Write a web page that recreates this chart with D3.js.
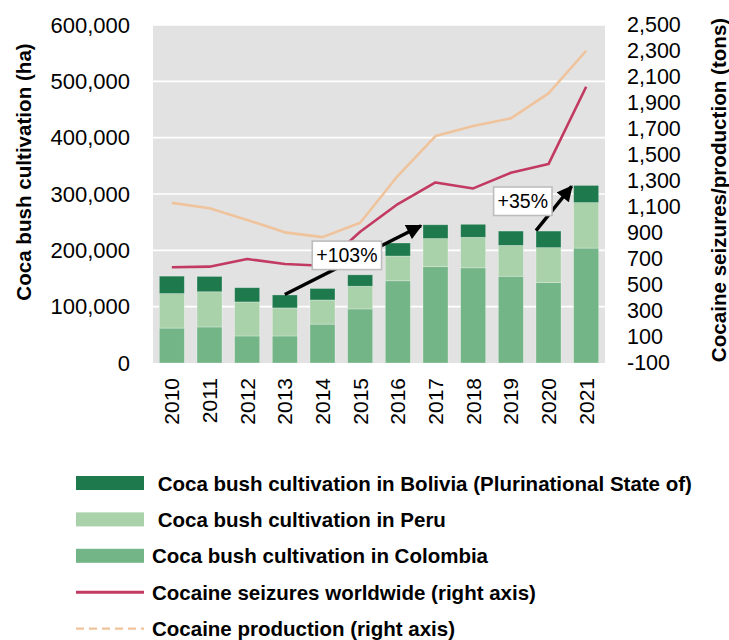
<!DOCTYPE html>
<html>
<head>
<meta charset="utf-8">
<script src="https://cdn.jsdelivr.net/npm/d3@7"></script>
<style>
  html, body { margin: 0; padding: 0; background: #ffffff; }
  svg { display: block; font-family: "Liberation Sans", Arial, sans-serif; }
</style>
</head>
<body>
<svg id="chart" width="729" height="640"></svg>
<script>
// Years on the category axis
const years = ["2010", "2011", "2012", "2013", "2014", "2015", "2016", "2017", "2018", "2019", "2020", "2021"];

// Coca bush cultivation (ha), stacked bottom to top
const colombia = [62000, 64000, 48000, 48000, 69000, 96000, 146000, 171000, 169000, 154000, 143000, 204000];
const peru     = [61200, 62500, 60400, 49800, 42900, 40300, 43900, 49900, 54100, 54700, 61800, 80700];
const bolivia  = [31000, 27200, 25300, 23000, 20400, 20200, 23100, 24500, 23100, 25500, 29400, 30500];

// Cocaine seizures and production (tons), right axis
const seizures   = [636, 641, 700, 661, 648, 910, 1123, 1289, 1243, 1363, 1430, 2025];
const production = [1132, 1090, 1000, 905, 868, 979, 1340, 1646, 1723, 1782, 1974, 2302];

// Tick values
const leftTicks  = [0, 100000, 200000, 300000, 400000, 500000, 600000];
const rightTicks = [-100, 100, 300, 500, 700, 900, 1100, 1300, 1500, 1700, 1900, 2100, 2300, 2500];

// Growth annotations between years
const annotFrom   = ["2013", "2020"];
const annotTo     = ["2017", "2021"];
const annotLabels = ["+103%", "+35%"];

// Series names and legend entries
const seriesNames = ["Colombia", "Peru", "Bolivia"];
const legendLabels = [
  " Coca bush cultivation in Bolivia (Plurinational State of)",
  " Coca bush cultivation in Peru",
  "Coca bush cultivation in Colombia",
  "Cocaine seizures worldwide (right axis)",
  "Cocaine production (right axis)"
];

const COL = {
  Bolivia: "#1e7a4d",
  Peru: "#a9d1aa",
  Colombia: "#73b586",
  seizures: "#c23a61",
  production: "#efc39c",
  plotBg: "#e2e2e2"
};

// Thousands separator with a plain hyphen for negatives
const numFmt = d3.formatLocale({ decimal: ".", thousands: ",", grouping: [3], currency: ["", ""], minus: "-" }).format(",");

const svg = d3.select("#chart");
const plot = { left: 153, right: 605, top: 25, bottom: 363 };

const x = d3.scaleBand()
  .domain(years)
  .range([plot.left, plot.right])
  .paddingInner(0.336)
  .paddingOuter(0.168);

const yL = d3.scaleLinear().domain([0, 600000]).range([plot.bottom, plot.top]);
const yR = d3.scaleLinear().domain([-100, 2500]).range([plot.bottom, plot.top]);

// Plot background and gridlines
svg.append("rect")
  .attr("x", plot.left).attr("y", plot.top)
  .attr("width", plot.right - plot.left).attr("height", plot.bottom - plot.top)
  .attr("fill", COL.plotBg);

svg.append("g").selectAll("line")
  .data(leftTicks.filter(d => d > 0))
  .join("line")
  .attr("x1", plot.left).attr("x2", plot.right)
  .attr("y1", d => yL(d)).attr("y2", d => yL(d))
  .attr("stroke", "#ffffff").attr("stroke-width", 1.6);

// Stacked bars
const rows = years.map((yr, i) => ({ year: yr, Colombia: colombia[i], Peru: peru[i], Bolivia: bolivia[i] }));
const stacked = d3.stack().keys(seriesNames)(rows);

svg.append("g").selectAll("g")
  .data(stacked)
  .join("g")
  .attr("fill", s => COL[s.key])
  .selectAll("rect")
  .data(s => s)
  .join("rect")
  .attr("x", d => x(d.data.year))
  .attr("width", x.bandwidth())
  .attr("y", d => yL(d[1]))
  .attr("height", d => yL(d[0]) - yL(d[1]))
  .attr("stroke", "rgba(255,255,255,0.35)")
  .attr("stroke-width", 0.8);

// Lines on right axis
const lineGen = d3.line()
  .x((d, i) => x(years[i]) + x.bandwidth() / 2)
  .y(d => yR(d));

svg.append("path")
  .datum(production)
  .attr("d", lineGen)
  .attr("fill", "none")
  .attr("stroke", COL.production)
  .attr("stroke-width", 2.6)
  .attr("stroke-linejoin", "round");

svg.append("path")
  .datum(seizures)
  .attr("d", lineGen)
  .attr("fill", "none")
  .attr("stroke", COL.seizures)
  .attr("stroke-width", 2.6)
  .attr("stroke-linejoin", "round");

// Growth arrows and labels
const totals = years.map((yr, i) => colombia[i] + peru[i] + bolivia[i]);
const totalOf = yr => totals[years.indexOf(yr)];

svg.append("defs").append("marker")
  .attr("id", "arrowHead")
  .attr("viewBox", "0 0 10 10")
  .attr("refX", 9).attr("refY", 5)
  .attr("markerWidth", 4.8).attr("markerHeight", 4.6)
  .attr("markerUnits", "strokeWidth")
  .attr("orient", "auto")
  .append("path")
  .attr("d", "M0,0 L10,5 L0,10 Z")
  .attr("fill", "#000");

// start point: fraction across the start bar; end point: just left of the end bar
const startFrac = [0.5, 0.0];
const boxShift = [[-6, -5], [-31, -7.5]];

annotFrom.forEach((fromYr, k) => {
  const toYr = annotTo[k];
  const x1 = x(fromYr) + x.bandwidth() * startFrac[k];
  const y1 = yL(totalOf(fromYr)) - 0.5;
  const x2 = x(toYr) - 2;
  const y2 = yL(totalOf(toYr)) + 1;

  svg.append("line")
    .attr("x1", x1).attr("y1", y1)
    .attr("x2", x2).attr("y2", y2)
    .attr("stroke", "#000")
    .attr("stroke-width", 3.4)
    .attr("marker-end", "url(#arrowHead)");

  const cx = (x1 + x2) / 2 + boxShift[k][0];
  const cy = (y1 + y2) / 2 + boxShift[k][1];
  const g = svg.append("g");
  const t = g.append("text")
    .attr("x", cx).attr("y", cy)
    .attr("text-anchor", "middle")
    .attr("dominant-baseline", "central")
    .attr("font-size", 19.5)
    .attr("fill", "#000")
    .text(annotLabels[k]);
  const bb = t.node().getBBox();
  g.insert("rect", "text")
    .attr("x", bb.x - 4).attr("y", cy - 14)
    .attr("width", bb.width + 8).attr("height", 28.5)
    .attr("fill", "#fff")
    .attr("stroke", "#bdbdbd")
    .attr("stroke-width", 1.6);
});

// Axes
const axL = svg.append("g")
  .attr("transform", `translate(${plot.left},0)`)
  .call(d3.axisLeft(yL).tickValues(leftTicks).tickFormat(numFmt).tickSize(0).tickPadding(23));
axL.select(".domain").remove();
axL.selectAll("text")
  .attr("font-size", 22)
  .attr("font-family", "Liberation Sans, Arial, sans-serif")
  .attr("fill", "#000");

const axR = svg.append("g")
  .attr("transform", `translate(${plot.right},0)`)
  .call(d3.axisRight(yR).tickValues(rightTicks).tickFormat(numFmt).tickSize(0).tickPadding(22));
axR.select(".domain").remove();
axR.selectAll("text")
  .attr("font-size", 21.5)
  .attr("font-family", "Liberation Sans, Arial, sans-serif")
  .attr("fill", "#000");

const axB = svg.append("g")
  .attr("transform", `translate(0,${plot.bottom})`)
  .call(d3.axisBottom(x).tickSize(0));
axB.select(".domain").remove();
axB.selectAll("text")
  .attr("font-size", 21)
  .attr("font-family", "Liberation Sans, Arial, sans-serif")
  .attr("fill", "#000")
  .attr("transform", "rotate(-90)")
  .attr("x", -15)
  .attr("y", 0)
  .attr("dy", "0.36em")
  .style("text-anchor", "end");

// Axis titles
svg.append("text")
  .attr("transform", "translate(23,172) rotate(-90)")
  .attr("text-anchor", "middle")
  .attr("dominant-baseline", "central")
  .attr("font-size", 20.6)
  .attr("font-weight", "bold")
  .text("Coca bush cultivation (ha)");

svg.append("text")
  .attr("transform", "translate(718,190) rotate(-90)")
  .attr("text-anchor", "middle")
  .attr("dominant-baseline", "central")
  .attr("font-size", 20.6)
  .attr("font-weight", "bold")
  .text("Cocaine seizures/production (tons)");

// Legend
const legendKinds = ["rect", "rect", "rect", "line", "dash"];
const legendColors = [COL.Bolivia, COL.Peru, COL.Colombia, COL.seizures, COL.production];
const lg = svg.append("g");
legendLabels.forEach((lab, i) => {
  const cy = 483 + i * 36.4;
  if (legendKinds[i] === "rect") {
    lg.append("rect")
      .attr("x", 76).attr("y", cy - 7)
      .attr("width", 68).attr("height", 14)
      .attr("fill", legendColors[i]);
  } else {
    lg.append("line")
      .attr("x1", 76).attr("x2", 144)
      .attr("y1", cy).attr("y2", cy)
      .attr("stroke", legendColors[i])
      .attr("stroke-width", legendKinds[i] === "dash" ? 2.4 : 3)
      .attr("stroke-dasharray", legendKinds[i] === "dash" ? "8,5" : null);
  }
  lg.append("text")
    .attr("x", 152)
    .attr("y", cy)
    .attr("dominant-baseline", "central")
    .attr("font-size", 20.5)
    .attr("font-weight", "bold")
    .style("white-space", "pre")
    .attr("fill", "#000")
    .text(lab);
});
</script>
</body>
</html>
